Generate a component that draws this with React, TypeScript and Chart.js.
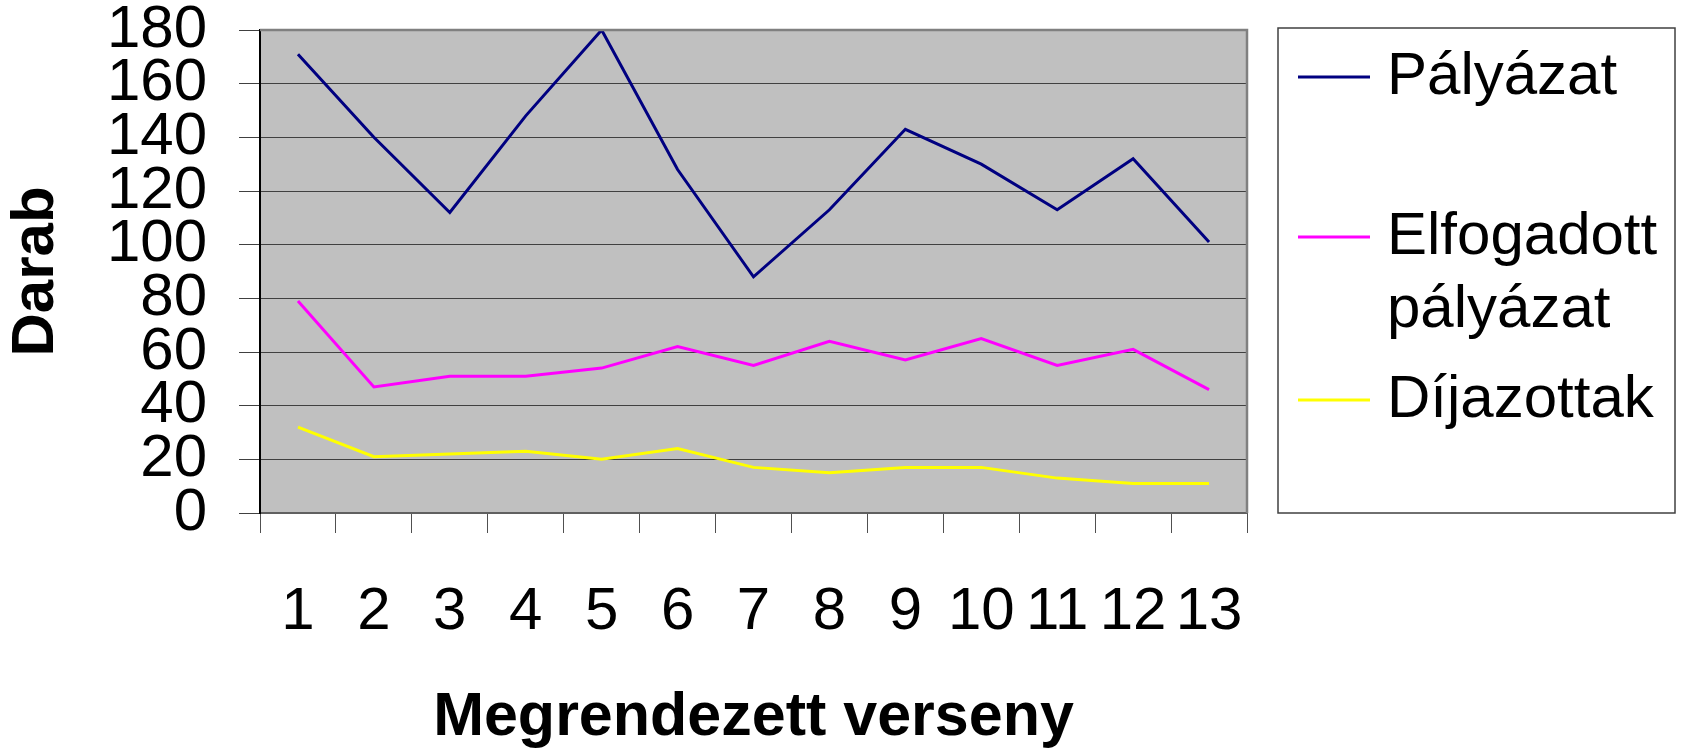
import React, { useEffect, useRef } from "react";
import { Chart, registerables } from "chart.js";

Chart.register(...registerables);

const categories = ["1", "2", "3", "4", "5", "6", "7", "8", "9", "10", "11", "12", "13"];
const palyazat = [171, 140, 112, 148, 180, 128, 88, 113, 143, 130, 113, 132, 101];
const elfogadott = [79, 47, 51, 51, 54, 62, 55, 64, 57, 65, 55, 61, 46];
const dijazottak = [32, 21, 22, 23, 20, 24, 17, 15, 17, 17, 13, 11, 11];
const yTicks = [0, 20, 40, 60, 80, 100, 120, 140, 160, 180];

const seriesNames = ["Pályázat", "Elfogadott\npályázat", "Díjazottak"];
const seriesColors = ["#000080", "#FF00FF", "#FFFF00"];

const FONT = "'Liberation Sans', Arial, sans-serif";

const bgPlugin = {
  id: "plotBg",
  beforeDraw(chart: any) {
    const { ctx, chartArea } = chart;
    ctx.save();
    ctx.fillStyle = "#C0C0C0";
    ctx.fillRect(chartArea.left, chartArea.top, chartArea.right - chartArea.left, chartArea.bottom - chartArea.top);
    ctx.restore();
  },
  afterDraw(chart: any) {
    const { ctx, chartArea } = chart;
    ctx.save();
    ctx.strokeStyle = "#808080";
    ctx.lineWidth = 2.5;
    ctx.beginPath();
    ctx.moveTo(chartArea.left, chartArea.top);
    ctx.lineTo(chartArea.right, chartArea.top);
    ctx.lineTo(chartArea.right, chartArea.bottom);
    ctx.stroke();

    const lx = 1278, ly = 28, lw = 397, lh = 485;
    ctx.strokeStyle = "#404040";
    ctx.lineWidth = 1.5;
    ctx.strokeRect(lx, ly, lw, lh);

    const rows = [77, 237, 400];
    ctx.font = `60px ${FONT}`;
    ctx.textBaseline = "middle";
    ctx.textAlign = "left";
    chart.data.datasets.forEach((ds: any, i: number) => {
      const y = rows[i];
      ctx.strokeStyle = ds.borderColor;
      ctx.lineWidth = 3;
      ctx.beginPath();
      ctx.moveTo(1298, y);
      ctx.lineTo(1370, y);
      ctx.stroke();
      ctx.fillStyle = "#000";
      const lines = String(ds.label).split("\n");
      lines.forEach((t: string, j: number) => {
        ctx.fillText(t, 1387, y + j * 73);
      });
    });
    ctx.restore();
  },
};

export default function App() {
  const ref = useRef<HTMLCanvasElement>(null);
  useEffect(() => {
    if (!ref.current) return;
    const data = [palyazat, elfogadott, dijazottak];
    const chart = new Chart(ref.current, {
      type: "line",
      data: {
        labels: categories,
        datasets: data.map((d, i) => ({
          label: seriesNames[i],
          data: d,
          borderColor: seriesColors[i],
          backgroundColor: seriesColors[i],
          borderWidth: 3,
          pointRadius: 0,
          tension: 0,
          fill: false,
        })),
      },
      options: {
        animation: false,
        responsive: false,
        maintainAspectRatio: false,
        layout: { padding: { top: 30, right: 437, left: 0, bottom: 0 } },
        plugins: { legend: { display: false }, tooltip: { enabled: false } },
        scales: {
          x: {
            offset: true,
            grid: { drawOnChartArea: false, offset: true, tickLength: 20, color: "#505050", lineWidth: 1 },
            border: { color: "#606060", width: 2 },
            ticks: {
              autoSkip: false,
              maxRotation: 0,
              minRotation: 0,
              padding: 43,
              color: "#000",
              font: { family: FONT, size: 60, lineHeight: 1.2 },
            },
            title: {
              display: true,
              text: "Megrendezett verseny",
              color: "#000",
              font: { family: FONT, size: 61, weight: "bold", lineHeight: 1.1 },
              padding: { top: 0, bottom: 0 },
            },
            afterFit(scale: any) {
              scale.height = 239;
              scale.paddingLeft = 0;
              scale.paddingRight = 0;
            },
          },
          y: {
            min: 0,
            max: 180,
            afterBuildTicks(scale: any) {
              scale.ticks = yTicks.map((v) => ({ value: v }));
            },
            grid: { color: "#404040", lineWidth: 1, tickLength: 21 },
            border: { color: "#000", width: 2 },
            ticks: {
              autoSkip: false,
              padding: 32,
              color: "#000",
              font: { family: FONT, size: 60, lineHeight: 1.2 },
            },
            title: {
              display: true,
              text: "Darab",
              color: "#000",
              font: { family: FONT, size: 60, weight: "bold", lineHeight: 1.2 },
              padding: { top: 0, bottom: 0 },
            },
            afterFit(scale: any) {
              scale.width = 260;
              scale.paddingTop = 0;
              scale.paddingBottom = 0;
            },
          },
        },
      },
      plugins: [bgPlugin],
    });
    return () => chart.destroy();
  }, []);
  return (
    <div style={{ position: "absolute", left: 0, top: 0, width: 1684, height: 752, background: "#fff" }}>
      <canvas ref={ref} width={1684} height={752} style={{ width: 1684, height: 752, display: "block" }} />
    </div>
  );
}
